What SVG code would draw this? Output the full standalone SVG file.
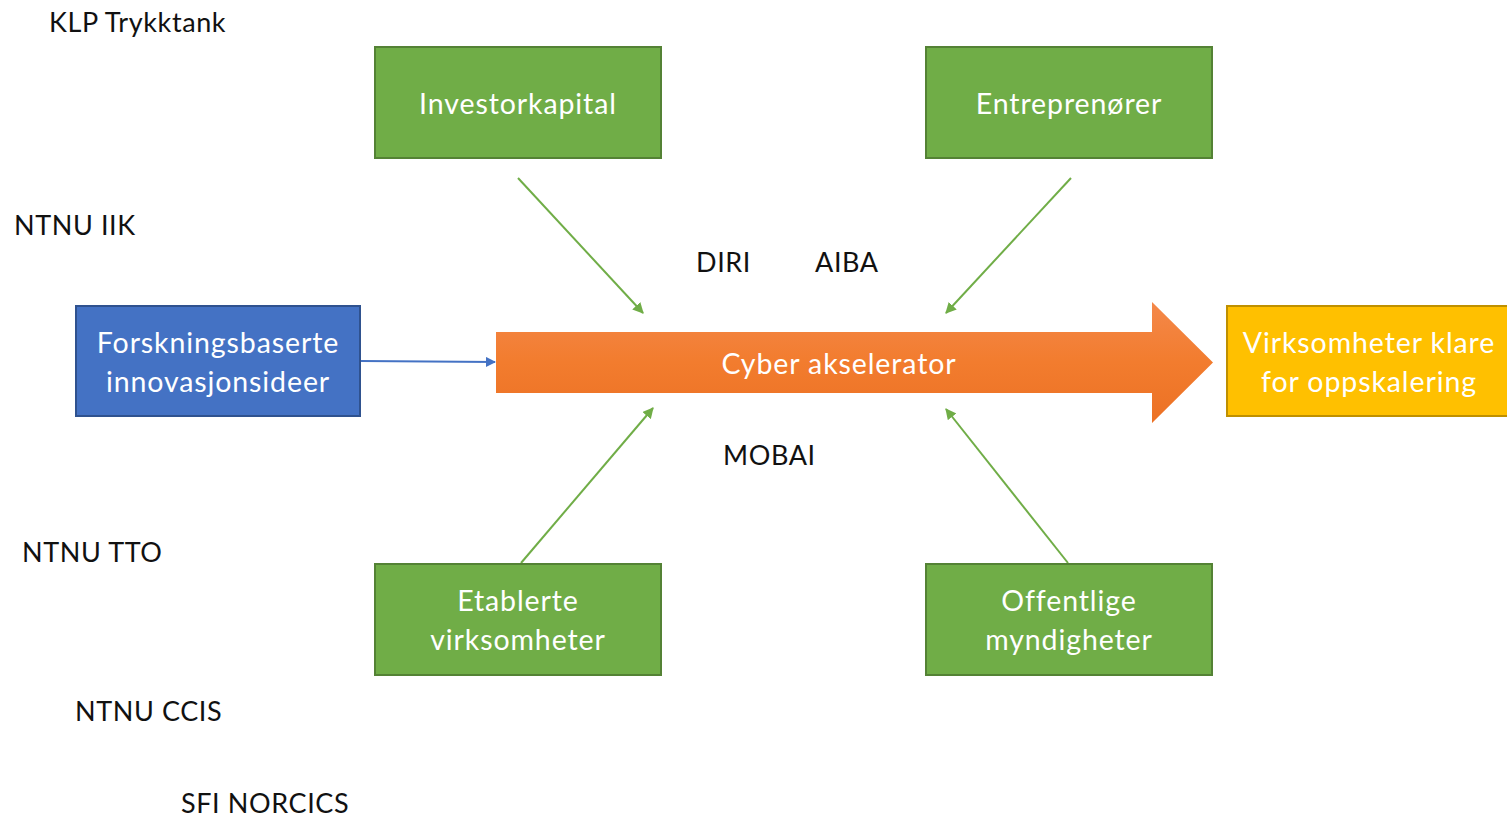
<svg xmlns="http://www.w3.org/2000/svg" width="1507" height="817" viewBox="0 0 1507 817">
  <style>
    .lbl { font-family: Lato, "Liberation Sans", sans-serif; font-size: 27px; letter-spacing: 0.6px; fill: #111; }
    .box-text { font-family: Lato, "Liberation Sans", sans-serif; font-size: 28.5px; letter-spacing: 0.9px; fill: #fff; text-anchor: middle; dominant-baseline: central; }
    .green { fill: #70AD47; stroke: #548235; stroke-width: 2; }
    .blue { fill: #4472C4; stroke: #2F528F; stroke-width: 2; }
    .yellow { fill: #FFC000; stroke: #BF9000; stroke-width: 2; }
    .conn-green { stroke: #70AD47; stroke-width: 2; fill: none; marker-end: url(#head-green); }
    .conn-blue { stroke: #4472C4; stroke-width: 2; fill: none; marker-end: url(#head-blue); }
  </style>
  <defs>
    <linearGradient id="orangeFill" x1="0" y1="0" x2="0" y2="1">
      <stop offset="0" stop-color="#F4884A"/>
      <stop offset="0.5" stop-color="#F27C2E"/>
      <stop offset="1" stop-color="#EC7124"/>
    </linearGradient>
    <marker id="head-green" viewBox="0 0 10 10" refX="9" refY="5" markerWidth="5.5" markerHeight="5.5" orient="auto" markerUnits="strokeWidth">
      <path d="M0,0 L10,5 L0,10 z" fill="#70AD47"/>
    </marker>
    <marker id="head-blue" viewBox="0 0 10 10" refX="9" refY="5" markerWidth="5" markerHeight="5" orient="auto" markerUnits="strokeWidth">
      <path d="M0,0 L10,5 L0,10 z" fill="#4472C4"/>
    </marker>
  </defs>

  <rect width="1507" height="817" fill="#fff"/>

  <!-- free-standing partner labels -->
  <g id="labels">
    <text class="lbl" x="49" y="32">KLP Trykktank</text>
    <text class="lbl" x="14" y="235">NTNU IIK</text>
    <text class="lbl" x="696" y="272">DIRI</text>
    <text class="lbl" x="815" y="272">AIBA</text>
    <text class="lbl" x="723" y="465">MOBAI</text>
    <text class="lbl" x="22" y="562">NTNU TTO</text>
    <text class="lbl" x="75" y="721">NTNU CCIS</text>
    <text class="lbl" x="181" y="813">SFI NORCICS</text>
  </g>

  <!-- connectors -->
  <g id="connectors">
    <line class="conn-green" x1="518" y1="178" x2="643" y2="313"/>
    <line class="conn-green" x1="1071" y1="178" x2="946" y2="313"/>
    <line class="conn-green" x1="521" y1="563" x2="653" y2="408"/>
    <line class="conn-green" x1="1068" y1="563" x2="946" y2="409"/>
    <line class="conn-blue" x1="361" y1="361" x2="495" y2="362"/>
  </g>

  <g id="investorkapital">
    <rect class="green" x="375" y="47" width="286" height="111"/>
    <text class="box-text" x="518" y="103">Investorkapital</text>
  </g>

  <g id="entreprenorer">
    <rect class="green" x="926" y="47" width="286" height="111"/>
    <text class="box-text" x="1069" y="103">Entreprenører</text>
  </g>

  <g id="etablerte">
    <rect class="green" x="375" y="564" width="286" height="111"/>
    <text class="box-text" x="518" y="600">Etablerte</text>
    <text class="box-text" x="518" y="639">virksomheter</text>
  </g>

  <g id="offentlige">
    <rect class="green" x="926" y="564" width="286" height="111"/>
    <text class="box-text" x="1069" y="600">Offentlige</text>
    <text class="box-text" x="1069" y="639">myndigheter</text>
  </g>

  <g id="forskning">
    <rect class="blue" x="76" y="306" width="284" height="110"/>
    <text class="box-text" x="218" y="342">Forskningsbaserte</text>
    <text class="box-text" x="218" y="381">innovasjonsideer</text>
  </g>

  <g id="akselerator">
    <path d="M496,332 L1152,332 L1152,302 L1213,362.5 L1152,423 L1152,393 L496,393 Z" fill="url(#orangeFill)"/>
    <text class="box-text" x="839" y="363">Cyber akselerator</text>
  </g>

  <g id="oppskalering">
    <rect class="yellow" x="1227" y="306" width="290" height="110"/>
    <text class="box-text" x="1369" y="342">Virksomheter klare</text>
    <text class="box-text" x="1369" y="381">for oppskalering</text>
  </g>
</svg>
